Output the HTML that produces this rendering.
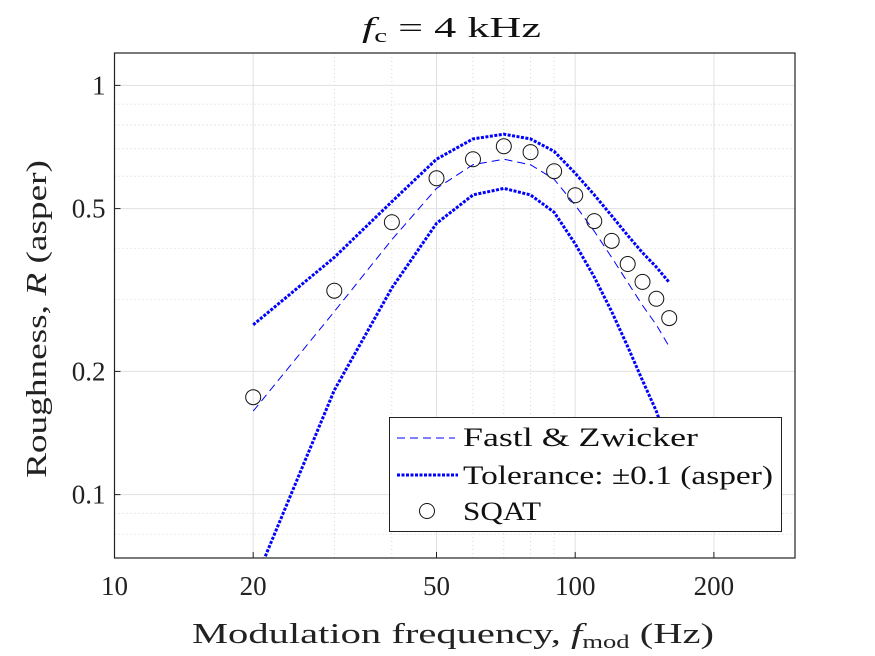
<!DOCTYPE html>
<html><head><meta charset="utf-8"><style>
body{margin:0;background:#fff}
svg{display:block;font-family:"Liberation Serif",serif}
</style></head><body>
<svg id="chart" width="875" height="656" viewBox="0 0 875 656">
<rect width="875" height="656" fill="#fff"/>
<g id="grid"></g>
<g id="series"></g>
<g id="axes"></g>
<text x="362" y="37" font-size="29" fill="#111" textLength="179" lengthAdjust="spacingAndGlyphs"><tspan font-style="italic">f</tspan><tspan font-size="19" dy="5">c</tspan><tspan dy="-5"> = 4 kHz</tspan></text>
<text x="192" y="643" font-size="29" fill="#222" textLength="522" lengthAdjust="spacingAndGlyphs">Modulation frequency, <tspan font-style="italic">f</tspan><tspan font-size="19" dy="5">mod</tspan><tspan dy="-5"> (Hz)</tspan></text>
<text transform="translate(46,478) rotate(-90)" font-size="29" fill="#222" textLength="318" lengthAdjust="spacingAndGlyphs">Roughness, <tspan font-style="italic">R</tspan> (asper)</text>
<g>
<rect x="389.5" y="417.5" width="392" height="114" fill="#fff" stroke="#222" stroke-width="1"/>
<line x1="397" y1="438" x2="455" y2="438" stroke="#00f" stroke-width="1" stroke-dasharray="8,5"/>
<text x="463" y="446" font-size="26" fill="#111" textLength="235" lengthAdjust="spacingAndGlyphs">Fastl &amp; Zwicker</text>
<line x1="397" y1="475" x2="458" y2="475" stroke="#00f" stroke-width="3" stroke-dasharray="3,1.5"/>
<text x="463" y="484" font-size="26" fill="#111" textLength="310" lengthAdjust="spacingAndGlyphs">Tolerance: ±0.1 (asper)</text>
<circle cx="427" cy="511" r="7.5" fill="none" stroke="#111" stroke-width="1"/>
<text x="463" y="520" font-size="26" fill="#111" textLength="78" lengthAdjust="spacingAndGlyphs">SQAT</text>
</g>
</svg>
<script>
const freqs=[20,30,40,50,60,70,80,90,100,110,120,130,140,150,160];
const refVals=[0.16,0.28,0.42,0.56,0.64,0.66,0.64,0.59,0.51,0.44,0.38,0.33,0.29,0.26,0.23];
const sqatVals=[0.173,0.315,0.463,0.593,0.66,0.71,0.687,0.617,0.539,0.466,0.417,0.366,0.331,0.301,0.270];
const tol=0.1;
const xTicks=[10,20,50,100,200];
const xMinor=[30,40,60,70,80,90];
const yTicks=[0.1,0.2,0.5,1];
const yTickLabels=["0.1","0.2","0.5","1"];
const yMinor=[0.07,0.08,0.09,0.3,0.4,0.6,0.7,0.8,0.9];
const L=114.5,R=795,T=53,B=558;
const xLo=10,xHi=300,yLo=0.07,yHi=1.2;
const X=v=>L+(Math.log10(v)-Math.log10(xLo))/(Math.log10(xHi)-Math.log10(xLo))*(R-L);
const Y=v=>B-(Math.log10(v)-Math.log10(yLo))/(Math.log10(yHi)-Math.log10(yLo))*(B-T);
const NS="http://www.w3.org/2000/svg";
function mk(p,tag,a){const e=document.createElementNS(NS,tag);for(const k in a)e.setAttribute(k,a[k]);p.appendChild(e);return e;}
const grid=document.getElementById('grid'),ser=document.getElementById('series'),ax=document.getElementById('axes');
xTicks.forEach(v=>{const l=mk(grid,'line',{x1:X(v),x2:X(v),y1:T,y2:B,stroke:'#e0e0e0','stroke-width':1});
});
xMinor.forEach(v=>{const l=mk(grid,'line',{x1:X(v),x2:X(v),y1:T,y2:B,stroke:'#c8c8c8','stroke-width':0.8,'stroke-dasharray':'1,3'});
});
yTicks.forEach(v=>{const l=mk(grid,'line',{x1:L,x2:R,y1:Y(v),y2:Y(v),stroke:'#e0e0e0','stroke-width':1});
});
yMinor.forEach(v=>{const l=mk(grid,'line',{x1:L,x2:R,y1:Y(v),y2:Y(v),stroke:'#c8c8c8','stroke-width':0.8,'stroke-dasharray':'1,3'});
});
const clip=mk(ser,'clipPath',{id:'pc'});mk(clip,'rect',{x:L,y:T,width:R-L,height:B-T});
const g=mk(ser,'g',{'clip-path':'url(#pc)'});
function path(vals){return vals.map((v,i)=>(i?'L':'M')+X(freqs[i]).toFixed(1)+','+Y(Math.max(v,0.01)).toFixed(1)).join('');}
const pr=mk(g,'path',{d:path(refVals),fill:'none',stroke:'#00f','stroke-width':1,'stroke-dasharray':'8,5'});

const pu=mk(g,'path',{d:path(refVals.map(v=>v+tol)),fill:'none',stroke:'#00f','stroke-width':3,'stroke-dasharray':'3,1.5'});

const pl=mk(g,'path',{d:path(refVals.map(v=>v-tol)),fill:'none',stroke:'#00f','stroke-width':3,'stroke-dasharray':'3,1.5'});

sqatVals.forEach((v,i)=>{const c=mk(g,'circle',{cx:X(freqs[i]),cy:Y(v),r:7.5,fill:'none',stroke:'#111','stroke-width':1});
});
const box=mk(ax,'rect',{x:L,y:T,width:R-L,height:B-T,fill:'none',stroke:'#222','stroke-width':1.2});

xTicks.forEach(v=>{mk(ax,'line',{x1:X(v),x2:X(v),y1:B,y2:B-6,stroke:'#222'});
const t=mk(ax,'text',{x:X(v),y:B+37,'font-size':27,'text-anchor':'middle',fill:'#222'});t.textContent=v;
});
yTicks.forEach((v,i)=>{mk(ax,'line',{x1:L,x2:L+6,y1:Y(v),y2:Y(v),stroke:'#222'});
const t=mk(ax,'text',{x:L-9,y:Y(v)+9,'font-size':27,'text-anchor':'end',fill:'#222'});t.textContent=yTickLabels[i];
});
</script>
</body></html>
